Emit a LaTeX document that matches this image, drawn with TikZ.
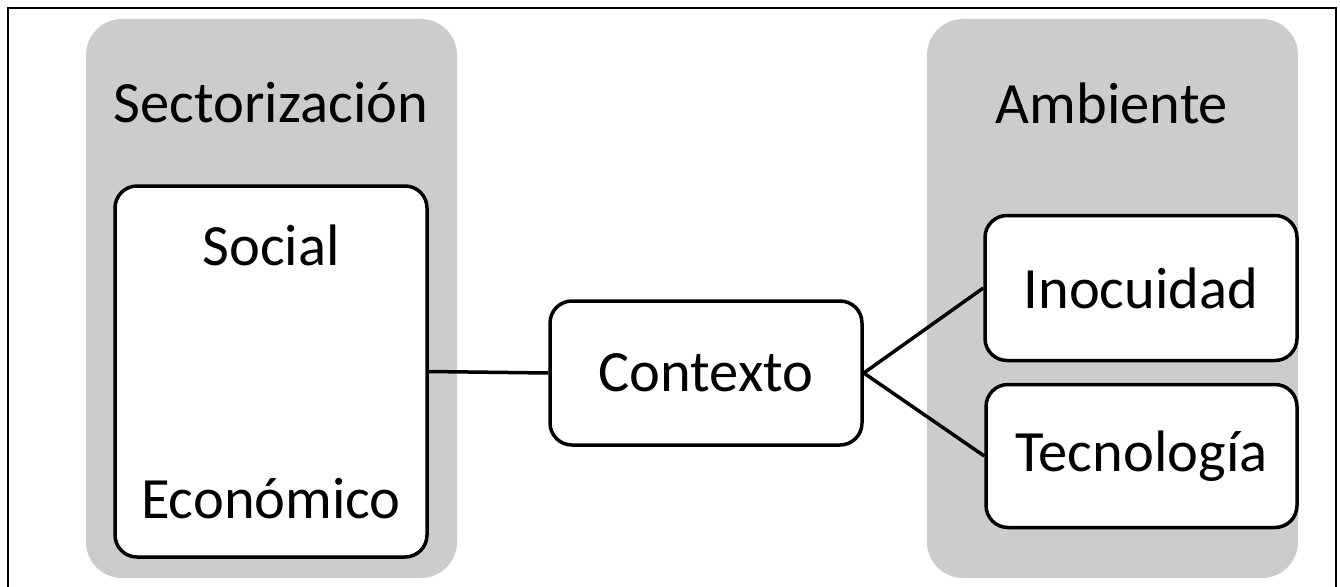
\documentclass[tikz,border=0pt]{standalone}
\usepackage{fontspec}
\setmainfont{Carlito}
\begin{document}
\begin{tikzpicture}[x=1pt,y=-1pt,
  panel/.style={rectangle,rounded corners=36pt,fill=black!20,inner sep=0pt},
  caja/.style={rectangle,rounded corners=22pt,draw=black,line width=3.5pt,fill=white,inner sep=0pt},
  texto/.style={font=\fontsize{58.5}{70}\selectfont,inner sep=0pt}]
\useasboundingbox (0,0) rectangle (1340,586);
\draw[line width=2pt] (8,8) rectangle (1336,610);
%---------------------------------------------------
\node[panel,minimum width=371pt,minimum height=559pt] (sector) at (271.5,298.5) {};
\node[panel,minimum width=371pt,minimum height=559pt] (ambiente) at (1112.5,298.5) {};
\node[texto] (tsector) at (271,103) {Sectorización};
\node[texto] (tambiente) at (1112,103) {Ambiente};
%---------------------------------------------------
\node[caja,minimum width=312pt,minimum height=371pt] (socioeco) at (271,371.5) {};
\node[texto] (social) at (271,245) {Social};
\node[texto] (economico) at (271,499) {Económico};
%---------------------------------------------------
\node[caja,minimum width=312pt,minimum height=144pt] (contexto) at (706,373) {};
\node[texto] at (contexto) {Contexto};
\node[caja,minimum width=312pt,minimum height=145pt] (inocuidad) at (1141,288) {};
\node[texto] at (inocuidad) {Inocuidad};
\node[caja,minimum width=311pt,minimum height=143pt] (tecnologia) at (1141.5,456) {};
\node[texto] at (tecnologia) {Tecnología};
%---------------------------------------------------
\draw[line width=3.5pt] (socioeco.east) -- (contexto.west);
\draw[line width=3.5pt] (contexto.east) -- (inocuidad.west);
\draw[line width=3.5pt] (contexto.east) -- (tecnologia.west);
\end{tikzpicture}
\end{document}
